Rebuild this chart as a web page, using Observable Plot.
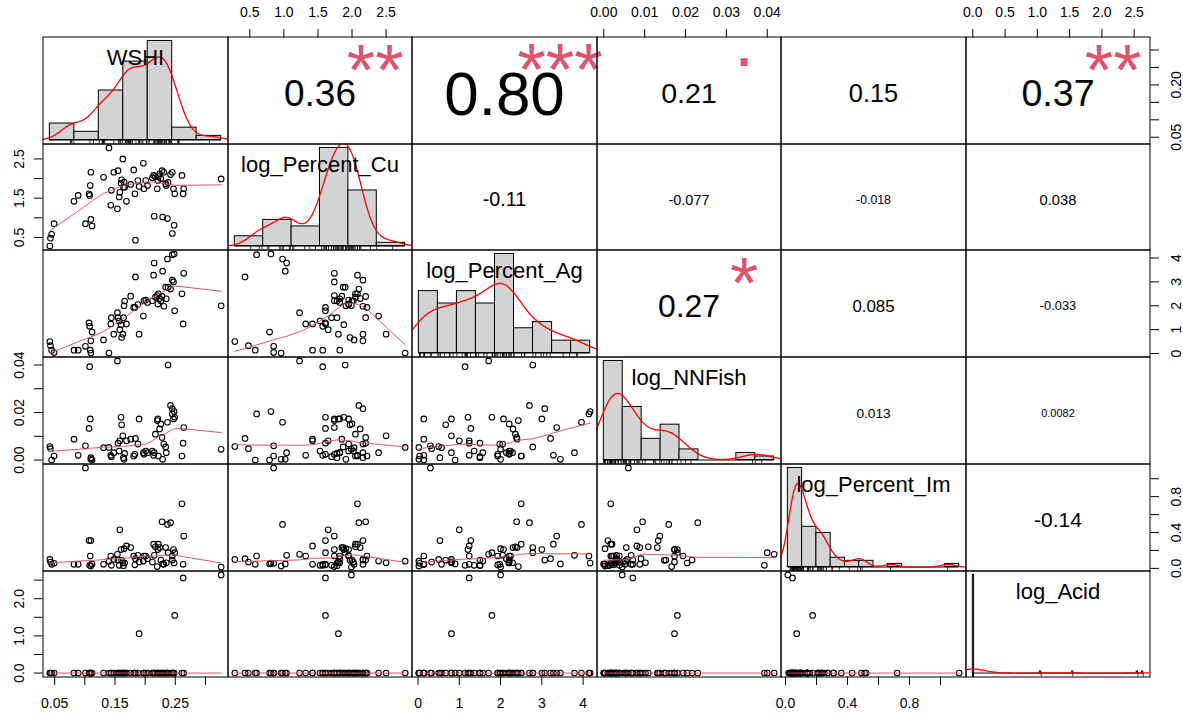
<!DOCTYPE html>
<html>
<head>
<meta charset="utf-8">
<script src="https://cdn.jsdelivr.net/npm/d3@7"></script>
<script src="https://cdn.jsdelivr.net/npm/@observablehq/plot@0.6"></script>
<style>
  html, body { margin: 0; padding: 0; background: #fff; }
  #chart { position: relative; width: 1183px; height: 715px; overflow: hidden; background: #fff; }
  #chart svg { position: absolute; overflow: visible; max-width: none; }
</style>
</head>
<body>
<div id="chart"></div>
<script>
// ---------------- data ----------------
const varNames = ["WSHI", "log_Percent_Cu", "log_Percent_Ag", "log_NNFish", "log_Percent_Im", "log_Acid"];

const WSHI = [0.042,0.043,0.045,0.049,0.082,0.089,0.101,0.107,0.108,0.109,
  0.110,0.110,0.112,0.131,0.140,0.143,0.144,0.148,0.154,0.155,
  0.157,0.158,0.160,0.161,0.163,0.164,0.165,0.166,0.169,0.176,
  0.181,0.183,0.184,0.188,0.190,0.197,0.198,0.201,0.204,0.212,
  0.214,0.215,0.217,0.220,0.221,0.222,0.224,0.226,0.228,0.229,
  0.231,0.234,0.235,0.237,0.238,0.242,0.245,0.245,0.247,0.248,
  0.249,0.261,0.263,0.264,0.326];

const logPercentCu = [0.28,0.48,0.58,0.85,1.42,1.57,0.85,1.61,1.57,1.82,
  2.16,0.96,0.79,2.03,2.78,1.32,1.70,2.16,1.23,2.20,
  1.53,1.65,1.88,1.97,2.50,1.78,1.91,1.78,1.42,1.85,
  2.22,1.61,0.43,1.95,1.80,2.39,1.74,1.95,1.82,2.02,
  2.08,1.04,2.05,1.74,1.95,2.05,2.12,2.00,2.20,1.02,
  2.16,1.87,1.82,0.98,1.90,2.10,2.16,0.60,1.74,0.81,
  1.61,2.08,1.61,1.74,1.99];

const logPercentAg = [0.50,0.33,0.14,0.04,0.14,0.14,0.30,1.28,1.14,0.14,
  0.53,0.02,0.90,0.57,0.02,1.24,1.50,0.81,1.71,1.50,
  1.36,1.00,1.21,0.67,0.81,1.50,2.00,2.20,1.24,2.40,
  1.93,1.93,3.21,2.05,0.81,1.57,2.21,2.24,2.14,2.21,
  3.28,3.79,2.36,2.43,2.07,2.50,2.30,2.21,2.39,3.45,
  1.98,2.78,2.29,3.96,2.78,2.70,3.07,4.14,3.00,4.17,
  1.79,2.50,1.24,3.36,2.00];

const logNNFish = [0.0057,0.0048,0.0,0.0017,0.0088,0.002,0.006,0.0133,0.0393,0.0173,
  0.001,0.0003,0.0,0.0052,0.0053,0.002,0.0014,0.0031,0.0417,0.0071,
  0.0038,0.0081,0.018,0.0148,0.0102,0.001,0.0003,0.0028,0.0081,0.0088,
  0.0017,0.0024,0.0091,0.0067,0.0173,0.0031,0.0024,0.0038,0.0031,0.0038,
  0.002,0.0031,0.0109,0.0166,0.0173,0.0017,0.0131,0.0152,0.0095,0.0003,
  0.0067,0.0055,0.0031,0.0159,0.040,0.023,0.0216,0.0194,0.0173,0.0204,
  0.018,0.0017,0.0071,0.0137,0.0045];

const logPercentIm = [0.10,0.07,0.045,0.056,0.045,0.045,1.12,0.31,0.034,0.138,
  0.31,0.026,0.05,0.045,0.08,0.138,0.034,0.10,0.157,0.093,
  0.034,0.43,0.21,0.09,0.063,0.03,0.22,0.06,0.25,0.232,
  0.138,0.04,0.108,0.146,0.072,0.082,0.138,0.138,0.108,0.07,
  0.27,0.146,0.24,0.02,0.21,0.27,0.232,0.093,0.52,0.05,
  0.045,0.232,0.063,0.49,0.175,0.51,0.093,0.138,0.21,0.06,
  0.175,0.72,0.045,0.36,0.015];

const logAcid = [0,0,0,0,0,0,0,0,0,0, 0,0,0,0,0,0,0,0,0,0,
  0,0,0,0,0,0,0,0,0,0, 0,0,0,0,1.06,0,0,0,0,0,
  0,0,0,0,0,0,0,0,0,0, 0,0,0,0,0,0,0,0,0,0,
  1.55,0,2.56,0,2.64];

// histogram breaks
const breaksWSHI = [0, 0.05, 0.1, 0.15, 0.2, 0.25, 0.3, 0.35];
const breaksCu = [0, 0.5, 1, 1.5, 2, 2.5, 3];
const breaksAg = [0, 0.5, 1, 1.5, 2, 2.5, 3, 3.5, 4, 4.5];
const breaksNNFish = [0, 0.005, 0.01, 0.015, 0.02, 0.025, 0.03, 0.035, 0.04, 0.045];
const breaksIm = [0, 0.1, 0.2, 0.3, 0.4, 0.5, 0.6, 0.7, 0.8, 0.9, 1.0, 1.1, 1.2];
const acidBreakWidth = 0.02, acidBreakCount = 132;
const breaksAcid = d3.range(acidBreakCount + 1).map(k => +(k * acidBreakWidth).toFixed(2));

// upper-panel correlation labels (row-major over the upper triangle)
const corText  = ["0.36", "0.80", "0.21", "0.15", "0.37", "-0.11", "-0.077", "-0.018", "0.038", "0.27", "0.085", "-0.033", "0.013", "0.0082", "-0.14"];
const corStars = ["**",   "***",  ".",    "",     "**",   "",      "",       "",       "",      "*",    "",      "",       "",      "",       ""];

// axis ticks and shown labels
const topTicksCu = [0.5, 1, 1.5, 2, 2.5],            topLabelsCu = [0.5, 1, 1.5, 2, 2.5];
const topTicksNN = [0, 0.01, 0.02, 0.03, 0.04],     topLabelsNN = [0, 0.01, 0.02, 0.03, 0.04];
const topTicksAcid = [0, 0.5, 1, 1.5, 2, 2.5],      topLabelsAcid = [0, 0.5, 1, 1.5, 2, 2.5];
const bottomTicksWSHI = [0.05, 0.1, 0.15, 0.2, 0.25, 0.3], bottomLabelsWSHI = [0.05, 0.15, 0.25];
const bottomTicksAg = [0, 1, 2, 3, 4],              bottomLabelsAg = [0, 1, 2, 3, 4];
const bottomTicksIm = [0, 0.2, 0.4, 0.6, 0.8, 1.0], bottomLabelsIm = [0, 0.4, 0.8];
const leftTicksCu = [0.5, 1, 1.5, 2, 2.5],          leftLabelsCu = [0.5, 1.5, 2.5];
const leftTicksNN = [0, 0.01, 0.02, 0.03, 0.04],    leftLabelsNN = [0, 0.02, 0.04];
const leftTicksAcid = [0, 0.5, 1, 1.5, 2, 2.5],     leftLabelsAcid = [0, 1, 2];
const rightTicksWSHI = [0.05, 0.1, 0.15, 0.2, 0.25, 0.3], rightLabelsWSHI = [0.05, 0.2];
const rightTicksAg = [0, 1, 2, 3, 4],               rightLabelsAg = [0, 1, 2, 3, 4];
const rightTicksIm = [0, 0.2, 0.4, 0.6, 0.8, 1.0],  rightLabelsIm = [0, 0.4, 0.8];

// ---------------- helpers ----------------
const vars = [WSHI, logPercentCu, logPercentAg, logNNFish, logPercentIm, logAcid];
const breaks = [breaksWSHI, breaksCu, breaksAg, breaksNNFish, breaksIm, breaksAcid];
const FONT = '"Liberation Sans", Arial, Helvetica, sans-serif';
const colI = [42, 227, 411, 596, 780, 965, 1149];
const rowI = [36, 143, 249, 356, 463, 570, 676];
const chart = document.getElementById("chart");
const M = {marginTop: 0.5, marginRight: 0.5, marginBottom: 0.5, marginLeft: 0.5};
const STAR = "#DF536B";

function size(i, j) { return {width: colI[j + 1] - colI[j] + 1, height: rowI[i + 1] - rowI[i] + 1}; }
function place(svg, i, j) {
  svg.style.left = colI[j] + "px";
  svg.style.top = rowI[i] + "px";
  chart.appendChild(svg);
}
function ext(v) { const lo = d3.min(v), hi = d3.max(v), r = hi - lo; return [lo - 0.04 * r, hi + 0.04 * r]; }
function emWidth(s) { return [...s].reduce((a, c) => a + (c === "." ? 0.278 : c === "-" ? 0.333 : 0.556), 0); }

// R's lowess (clowess port)
function lowess(xIn, yIn, f = 2 / 3, nsteps = 3) {
  const n = xIn.length;
  const order = d3.range(n).sort((a, b) => xIn[a] - xIn[b]);
  const x = [NaN, ...order.map(i => xIn[i])];
  const y = [NaN, ...order.map(i => yIn[i])];
  const delta = 0.01 * (x[n] - x[1]);
  const ys = new Array(n + 1).fill(0);
  const rw = new Array(n + 1).fill(1);
  const res = new Array(n + 1).fill(0);
  const ns = Math.max(2, Math.min(n, Math.floor(f * n + 1e-7)));
  const cube = v => v * v * v;
  function lowest(xs, nleft, nright, userw) {
    const range = x[n] - x[1];
    const h = Math.max(xs - x[nleft], x[nright] - xs);
    const h9 = 0.999 * h, h1 = 0.001 * h;
    const w = res;
    let a = 0, j = nleft;
    while (j <= n) {
      w[j] = 0;
      const r = Math.abs(x[j] - xs);
      if (r <= h9) {
        w[j] = r <= h1 ? 1 : cube(1 - cube(r / h));
        if (userw) w[j] *= rw[j];
        a += w[j];
      } else if (x[j] > xs) break;
      j++;
    }
    const nrt = j - 1;
    if (a <= 0) return null;
    for (j = nleft; j <= nrt; j++) w[j] /= a;
    if (h > 0) {
      a = 0;
      for (j = nleft; j <= nrt; j++) a += w[j] * x[j];
      let b = xs - a, c = 0;
      for (j = nleft; j <= nrt; j++) c += w[j] * (x[j] - a) * (x[j] - a);
      if (Math.sqrt(c) > 0.001 * range) {
        b /= c;
        for (j = nleft; j <= nrt; j++) w[j] *= (b * (x[j] - a) + 1);
      }
    }
    let v = 0;
    for (j = nleft; j <= nrt; j++) v += w[j] * y[j];
    return v;
  }
  let iter = 1;
  while (iter <= nsteps + 1) {
    let nleft = 1, nright = ns, last = 0, i = 1;
    for (;;) {
      if (nright < n) {
        const d1 = x[i] - x[nleft], d2 = x[nright + 1] - x[i];
        if (d1 > d2) { nleft++; nright++; continue; }
      }
      const out = lowest(x[i], nleft, nright, iter > 1);
      ys[i] = out === null ? y[i] : out;
      if (last < i - 1) {
        const denom = x[i] - x[last];
        for (let j = last + 1; j < i; j++) {
          const alpha = (x[j] - x[last]) / denom;
          ys[j] = alpha * ys[i] + (1 - alpha) * ys[last];
        }
      }
      last = i;
      const cut = x[last] + delta;
      for (i = last + 1; i <= n; i++) {
        if (x[i] > cut) break;
        if (x[i] === x[last]) { ys[i] = ys[last]; last = i; }
      }
      i = Math.max(last + 1, i - 1);
      if (last >= n) break;
    }
    for (let k = 1; k <= n; k++) res[k] = y[k] - ys[k];
    let sc = 0;
    for (let k = 1; k <= n; k++) sc += Math.abs(res[k]);
    sc /= n;
    if (iter > nsteps) break;
    const sorted = d3.range(1, n + 1).map(k => Math.abs(res[k])).sort((a, b) => a - b);
    const m1 = Math.floor(n / 2);
    const cmad = n % 2 === 0 ? 3 * (sorted[m1] + sorted[n - m1 - 1]) : 6 * sorted[m1];
    if (cmad < 1e-7 * sc) break;
    const c9 = 0.999 * cmad, c1 = 0.001 * cmad;
    for (let k = 1; k <= n; k++) {
      const r = Math.abs(res[k]);
      rw[k] = r <= c1 ? 1 : r <= c9 ? Math.pow(1 - Math.pow(r / cmad, 2), 2) : 0;
    }
    iter++;
  }
  return d3.range(1, n + 1).map(k => ({x: x[k], y: ys[k]}));
}

// Gaussian kernel density, bandwidth bw.nrd0, 512 points over range +/- 3 bw
function densityCurve(v) {
  const n = v.length;
  const sd = d3.deviation(v);
  const iqr = d3.quantile(v, 0.75) - d3.quantile(v, 0.25);
  let lo = Math.min(sd, iqr / 1.34);
  if (!lo) lo = sd || Math.abs(v[0]) || 1;
  const bw = 0.9 * lo * Math.pow(n, -0.2);
  const a = d3.min(v) - 3 * bw, b = d3.max(v) + 3 * bw;
  return d3.range(512).map(k => {
    const t = a + (b - a) * k / 511;
    let s = 0;
    for (const xv of v) { const z = (t - xv) / bw; s += Math.exp(-0.5 * z * z); }
    return {x: t, y: s / (n * bw * Math.sqrt(2 * Math.PI))};
  });
}

// R hist bins (right-closed, include.lowest), density scale
function histBins(v, b) {
  const n = v.length;
  return d3.range(b.length - 1).map(k => {
    const lo = b[k], hi = b[k + 1];
    const c = v.filter(t => (k === 0 ? t >= lo : t > lo) && t <= hi).length;
    return {x1: lo, x2: hi, d: c / (n * (hi - lo))};
  });
}

const baseStyle = {fontFamily: FONT, background: "transparent", color: "black"};

// ---------------- panels ----------------
let corIndex = 0;
for (let i = 0; i < 6; i++) {
  for (let j = 0; j < 6; j++) {
    const {width, height} = size(i, j);
    let svg;
    if (i > j) {
      // lower panel: scatter + lowess smoother
      const pts = vars[j].map((xv, k) => ({x: xv, y: vars[i][k]}));
      const sm = lowess(vars[j], vars[i]);
      svg = Plot.plot({
        width, height, ...M, style: baseStyle,
        x: {domain: ext(vars[j]), axis: null},
        y: {domain: ext(vars[i]), axis: null},
        marks: [
          Plot.dot(pts, {x: "x", y: "y", r: 2.8, stroke: "black", strokeWidth: 1.1, fill: "none", clip: true}),
          Plot.line(sm, {x: "x", y: "y", stroke: STAR, strokeWidth: 1, clip: true}),
          Plot.frame({stroke: "black", strokeWidth: 1})
        ]
      });
    } else if (i === j) {
      // diagonal: histogram, density, rug, label
      const v = vars[i], b = breaks[i];
      const bins = histBins(v, b);
      const maxD = d3.max(bins, d => d.d);
      const b0 = b[0], bk = b[b.length - 1], br = bk - b0;
      svg = Plot.plot({
        width, height, ...M, style: baseStyle,
        x: {domain: [b0 - 0.04 * br, bk + 0.04 * br], axis: null},
        y: {domain: [-0.04 * maxD, 1.04 * maxD], axis: null},
        marks: [
          Plot.ruleY([0], {x1: b0, x2: bk, stroke: "black", strokeWidth: 1}),
          Plot.rect(bins.filter(d => d.d > 0), {x1: "x1", x2: "x2", y1: 0, y2: "d", fill: "#D3D3D3", stroke: "black", strokeWidth: 1}),
          Plot.line(densityCurve(v), {x: "x", y: "y", stroke: "#FF0000", strokeWidth: 1.3, clip: true}),
          Plot.ruleX(v, {x: d => d, insetTop: height - 1 - 3.5, stroke: "black", strokeWidth: 0.8}),
          Plot.text([varNames[i]], {text: d => d, frameAnchor: "top", lineAnchor: "middle", dy: 20.5, fontSize: 22, fill: "black"}),
          Plot.frame({stroke: "black", strokeWidth: 1})
        ]
      });
    } else {
      // upper panel: correlation + significance stars
      const txt = corText[corIndex], sig = corStars[corIndex];
      corIndex++;
      const r = Math.abs(+txt);
      const base = 0.77 * (width - 1) / emWidth(txt);
      const fs = base * (r + 0.3) / 1.3;
      const marks = [
        Plot.text([txt], {text: d => d, frameAnchor: "middle", lineAnchor: "middle", fontSize: fs, dy: 2.3 + 0.04 * fs, fill: "black"})
      ];
      if (sig) {
        marks.push(Plot.text([sig], {
          text: d => d, frameAnchor: "middle", lineAnchor: "middle", fontSize: base, fill: STAR,
          dx: 0.3 * (width - 1),
          dy: -0.3 * (height - 1) + (sig === "." ? 4 - 0.27 * base : -5 + 0.25 * base)
        }));
      }
      marks.push(Plot.frame({stroke: "black", strokeWidth: 1}));
      svg = Plot.plot({width, height, ...M, style: baseStyle, marks});
    }
    place(svg, i, j);
  }
}

// ---------------- axes ----------------
const TICK = 8.5, FS = 14;
function fmtWith(labels, f) { return d => labels.includes(d) ? f(d) : ""; }
function axisPlot(i, j, scaleName, domain, mark) {
  const {width, height} = size(i, j);
  const opts = {width, height, ...M, style: baseStyle, marks: [mark]};
  opts[scaleName] = {domain};
  place(Plot.plot(opts), i, j);
}
const f1 = d3.format(".1f"), f2 = d3.format(".2f"), f0 = d3.format("d");

// top axes (columns 2, 4, 6)
axisPlot(0, 1, "x", ext(logPercentCu), Plot.axisX(topTicksCu, {anchor: "top", tickSize: TICK, tickPadding: 11.3, fontSize: FS, label: null, tickFormat: fmtWith(topLabelsCu, f1)}));
axisPlot(0, 3, "x", ext(logNNFish), Plot.axisX(topTicksNN, {anchor: "top", tickSize: TICK, tickPadding: 11.3, fontSize: FS, label: null, tickFormat: fmtWith(topLabelsNN, f2)}));
axisPlot(0, 5, "x", ext(logAcid), Plot.axisX(topTicksAcid, {anchor: "top", tickSize: TICK, tickPadding: 11.3, fontSize: FS, label: null, tickFormat: fmtWith(topLabelsAcid, f1)}));
// bottom axes (columns 1, 3, 5)
axisPlot(5, 0, "x", ext(WSHI), Plot.axisX(bottomTicksWSHI, {anchor: "bottom", tickSize: TICK, tickPadding: 13, fontSize: FS, label: null, tickFormat: fmtWith(bottomLabelsWSHI, f2)}));
axisPlot(5, 2, "x", ext(logPercentAg), Plot.axisX(bottomTicksAg, {anchor: "bottom", tickSize: TICK, tickPadding: 13, fontSize: FS, label: null, tickFormat: fmtWith(bottomLabelsAg, f0)}));
axisPlot(5, 4, "x", ext(logPercentIm), Plot.axisX(bottomTicksIm, {anchor: "bottom", tickSize: TICK, tickPadding: 13, fontSize: FS, label: null, tickFormat: fmtWith(bottomLabelsIm, f1)}));
// left axes (rows 2, 4, 6)
axisPlot(1, 0, "y", ext(logPercentCu), Plot.axisY(leftTicksCu, {anchor: "left", tickSize: TICK, tickPadding: 10.8, tickRotate: -90, fontSize: FS, label: null, tickFormat: fmtWith(leftLabelsCu, f1)}));
axisPlot(3, 0, "y", ext(logNNFish), Plot.axisY(leftTicksNN, {anchor: "left", tickSize: TICK, tickPadding: 10.8, tickRotate: -90, fontSize: FS, label: null, tickFormat: fmtWith(leftLabelsNN, f2)}));
axisPlot(5, 0, "y", ext(logAcid), Plot.axisY(leftTicksAcid, {anchor: "left", tickSize: TICK, tickPadding: 10.8, tickRotate: -90, fontSize: FS, label: null, tickFormat: fmtWith(leftLabelsAcid, f1)}));
// right axes (rows 1, 3, 5)
axisPlot(0, 5, "y", ext(WSHI), Plot.axisY(rightTicksWSHI, {anchor: "right", tickSize: TICK, tickPadding: 12.5, tickRotate: -90, lineAnchor: "top", fontSize: FS, label: null, tickFormat: fmtWith(rightLabelsWSHI, f2)}));
axisPlot(2, 5, "y", ext(logPercentAg), Plot.axisY(rightTicksAg, {anchor: "right", tickSize: TICK, tickPadding: 12.5, tickRotate: -90, lineAnchor: "top", fontSize: FS, label: null, tickFormat: fmtWith(rightLabelsAg, f0)}));
axisPlot(4, 5, "y", ext(logPercentIm), Plot.axisY(rightTicksIm, {anchor: "right", tickSize: TICK, tickPadding: 12.5, tickRotate: -90, lineAnchor: "top", fontSize: FS, label: null, tickFormat: fmtWith(rightLabelsIm, f1)}));
</script>
</body>
</html>
